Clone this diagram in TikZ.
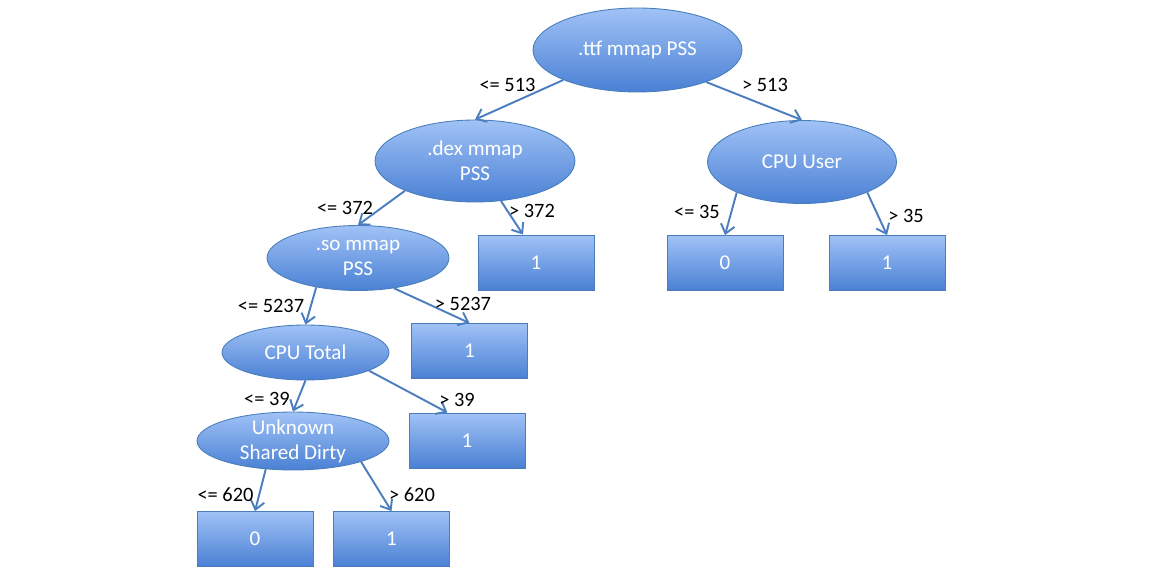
\documentclass[tikz,border=0pt]{standalone}
\usepackage{fontspec}
\setmainfont{Carlito}
\usetikzlibrary{arrows.meta,shapes.geometric}
\definecolor{boxtop}{RGB}{160,194,246}
\definecolor{boxbottom}{RGB}{74,128,212}
\definecolor{boxedge}{RGB}{74,126,187}
\definecolor{arrowblue}{RGB}{76,125,190}
\begin{document}
\begin{tikzpicture}[x=0.02cm,y=-0.02cm]
   \tikzstyle{line} = [draw=arrowblue, line width=1.1pt, -{Straight Barb[length=5pt,width=8pt]}]
   \tikzstyle{test} = [ellipse, draw=boxedge, line width=0.5pt, top color=boxtop, bottom color=boxbottom,
                       text=white, inner sep=0pt, align=center, font=\fontsize{12}{14.2}\selectfont]
   \tikzstyle{leaf} = [rectangle, draw=boxedge, line width=0.5pt, top color=boxtop, bottom color=boxbottom,
                       text=white, minimum width=2.32cm, minimum height=1.1cm, font=\fontsize{12}{14.2}\selectfont]
   \tikzstyle{cond} = [inner sep=0pt, font=\fontsize{11.6}{14}\selectfont]
   \useasboundingbox (0,0) rectangle (1169,567);

   \node[test, minimum width=4.18cm, minimum height=1.68cm] (ttf) at (637.5,50) {.ttf mmap PSS};
   \node[test, minimum width=4cm, minimum height=1.64cm] (dex) at (475,161) {.dex mmap\\PSS};
   \node[test, minimum width=3.78cm, minimum height=1.66cm] (user) at (802,162) {CPU User};
   \node[test, minimum width=3.64cm, minimum height=1.3cm] (so) at (358,258) {.so mmap\\PSS};
   \node[test, minimum width=3.34cm, minimum height=1.1cm] (total) at (305.5,352.5) {CPU Total};
   \node[test, minimum width=3.84cm, minimum height=1.16cm, inner ysep=-1.5pt] (unknown) at (293,441) {Unknown\\Shared Dirty};

   \node[leaf] (dexleaf) at (536,262.5) {1};
   \node[leaf] (userzero) at (725,263) {0};
   \node[leaf] (userone) at (887,263) {1};
   \node[leaf] (soleaf) at (469.5,351) {1};
   \node[leaf] (totalleaf) at (467,440.5) {1};
   \node[leaf] (unkzero) at (255,539) {0};
   \node[leaf] (unkone) at (391.5,539) {1};

   \draw [line] (ttf.202) -- (dex.north);
   \draw [line] (ttf.335) -- (user.north);

   \draw [line] (dex.203) -- (so.north);
   \draw [line] (dex.303) -- (dexleaf.115);

   \draw [line] (user.205) -- (userzero.north);
   \draw [line] (user.335) -- (userone.north);

   \draw [line] (so.215) -- (total.north);
   \draw [line] (so.320) -- (soleaf.north);

   \draw [line] (total.south) -- (unknown.north);
   \draw [line] (total.344) -- (totalleaf.125);

   \draw [line] (unknown.226) -- (unkzero.north);
   \draw [line] (unknown.343) -- (unkone.north);

   \node[cond] (c1) at (507.5,85) {<= 513};
   \node[cond] (c2) at (765,85) {> 513};
   \node[cond] (c3) at (345,207.5) {<= 372};
   \node[cond] (c4) at (532,211) {> 372};
   \node[cond] (c5) at (697,211.5) {<= 35};
   \node[cond] (c6) at (906,216) {> 35};
   \node[cond] (c7) at (271,306) {<= 5237};
   \node[cond] (c8) at (463,304) {> 5237};
   \node[cond] (c9) at (267,399) {<= 39};
   \node[cond] (c10) at (457,400) {> 39};
   \node[cond] (c11) at (225.5,495) {<= 620};
   \node[cond] (c12) at (412,495) {> 620};
 \end{tikzpicture}
\end{document}
